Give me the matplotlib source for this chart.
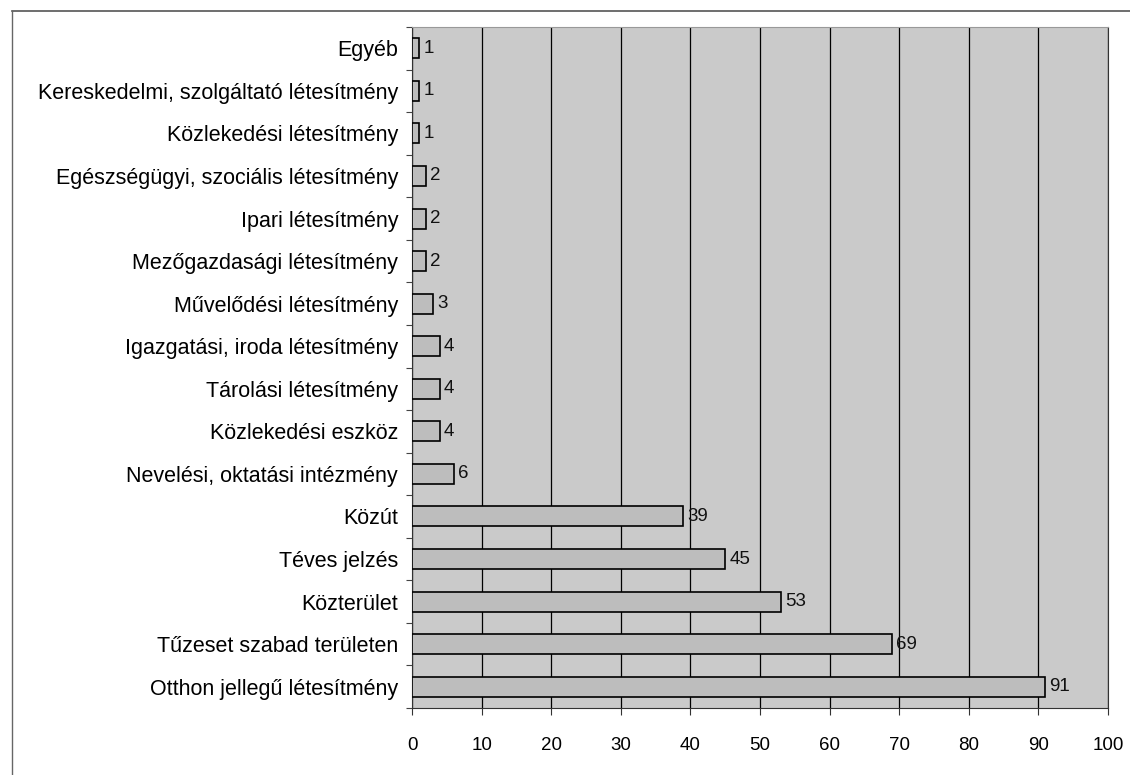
import matplotlib
matplotlib.use("Agg")
import matplotlib.pyplot as plt
import numpy as np

categories = [
    "Egyéb",
    "Kereskedelmi, szolgáltató létesítmény",
    "Közlekedési létesítmény",
    "Egészségügyi, szociális létesítmény",
    "Ipari létesítmény",
    "Mezőgazdasági létesítmény",
    "Művelődési létesítmény",
    "Igazgatási, iroda létesítmény",
    "Tárolási létesítmény",
    "Közlekedési eszköz",
    "Nevelési, oktatási intézmény",
    "Közút",
    "Téves jelzés",
    "Közterület",
    "Tűzeset szabad területen",
    "Otthon jellegű létesítmény",
]
values = [1, 1, 1, 2, 2, 2, 3, 4, 4, 4, 6, 39, 45, 53, 69, 91]
xticks = [0, 10, 20, 30, 40, 50, 60, 70, 80, 90, 100]

plt.rcParams['font.family'] = ['Liberation Sans', 'DejaVu Sans']

fig = plt.figure(figsize=(11.3, 7.75), dpi=100)
fig.patch.set_facecolor('white')
# outer frame lines (top and left)
fig.add_artist(plt.Line2D([0.011, 1.0], [1 - 10.5/775, 1 - 10.5/775], color='#555555', lw=1.2))
fig.add_artist(plt.Line2D([0.011, 0.011], [0.0, 1 - 10.5/775], color='#666666', lw=1.0))

ax = fig.add_axes([412/1130, 1 - 708/775, 696/1130, (708 - 27)/775])
ax.set_facecolor('#cacaca')

y = np.arange(len(categories))
ax.barh(y, values, height=0.47, color='#bdbdbd', edgecolor='black', linewidth=1.2, zorder=3)
for yi, v in zip(y, values):
    ax.text(v + 0.6, yi, str(v), va='center', ha='left', fontsize=13.5, color='#111111', zorder=4)

ax.set_xlim(0, 100)
ax.set_ylim(len(categories) - 0.5, -0.5)
ax.set_xticks(xticks)
ax.set_xticklabels([str(t) for t in xticks], fontsize=13.5)
ax.set_yticks(y)
ax.set_yticklabels(categories, fontsize=15.5)
ax.tick_params(axis='y', which='major', length=0, pad=10)
ax.set_yticks(np.arange(-0.5, len(categories), 1), minor=True)
ax.tick_params(axis='y', which='minor', length=4, width=0.8, direction='out', color='#444444')
ax.tick_params(axis='x', which='major', length=5, width=0.8, direction='out', pad=16, color='#333333')

ax.grid(axis='x', color='black', linewidth=0.9, zorder=1)
ax.spines['top'].set_color('#999999')
ax.spines['top'].set_linewidth(0.8)
ax.spines['right'].set_color('#333333')
ax.spines['right'].set_linestyle((0, (1, 1)))
ax.spines['left'].set_color('#333333')
ax.spines['left'].set_linewidth(0.8)
ax.spines['bottom'].set_color('#333333')
ax.spines['bottom'].set_linewidth(0.8)

fig.savefig('out.png', dpi=100)
